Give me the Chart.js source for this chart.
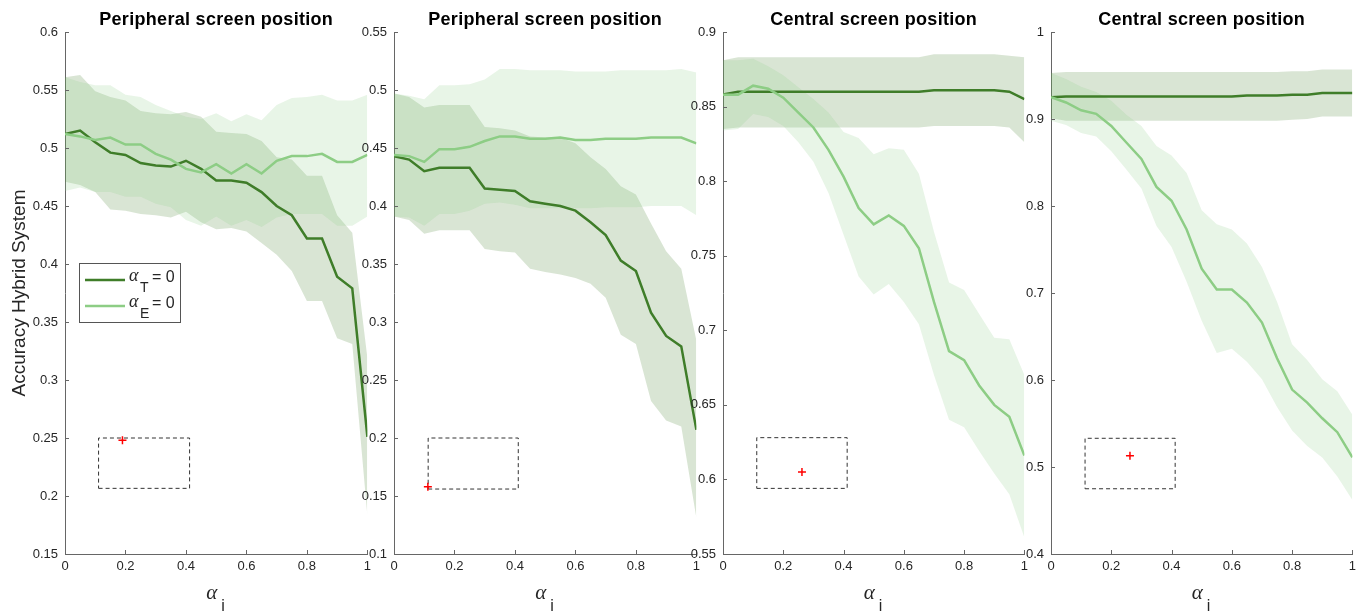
<!DOCTYPE html>
<html>
<head>
<meta charset="utf-8">
<script src="https://cdn.jsdelivr.net/npm/chart.js@4.4.1/dist/chart.umd.min.js"></script>
<style>
  body { margin: 0; background: #ffffff; }
  #wrap { position: relative; width: 1362px; height: 612px; overflow: hidden; }
  #wrap canvas { position: absolute; top: 0; }
</style>
</head>
<body>
<div id="wrap">
  <canvas id="panel1"></canvas>
  <canvas id="panel2"></canvas>
  <canvas id="panel3"></canvas>
  <canvas id="panel4"></canvas>
</div>
<script>
// alpha_i steps shared by every panel
const alphaSteps = [0, 0.05, 0.1, 0.15, 0.2, 0.25, 0.3, 0.35, 0.4, 0.45, 0.5,
                    0.55, 0.6, 0.65, 0.7, 0.75, 0.8, 0.85, 0.9, 0.95, 1];
const xTicks = [0, 0.2, 0.4, 0.6, 0.8, 1];

const titles = ['Peripheral screen position', 'Peripheral screen position',
                'Central screen position', 'Central screen position'];

const yTicks1 = [0.15, 0.2, 0.25, 0.3, 0.35, 0.4, 0.45, 0.5, 0.55, 0.6];
const yTicks2 = [0.1, 0.15, 0.2, 0.25, 0.3, 0.35, 0.4, 0.45, 0.5, 0.55];
const yTicks3 = [0.55, 0.6, 0.65, 0.7, 0.75, 0.8, 0.85, 0.9];
const yTicks4 = [0.4, 0.5, 0.6, 0.7, 0.8, 0.9, 1];

// panel 1 - peripheral
const p1Tmean  = [0.512, 0.515, 0.505, 0.496, 0.494, 0.487, 0.485, 0.484, 0.489, 0.482, 0.472, 0.472, 0.470, 0.462, 0.450, 0.442, 0.422, 0.422, 0.389, 0.379, 0.251];
const p1Tupper = [0.561, 0.563, 0.549, 0.544, 0.541, 0.532, 0.530, 0.529, 0.531, 0.527, 0.514, 0.513, 0.512, 0.506, 0.492, 0.490, 0.476, 0.476, 0.442, 0.427, 0.319];
const p1Tlower = [0.471, 0.468, 0.462, 0.447, 0.446, 0.443, 0.442, 0.440, 0.445, 0.436, 0.430, 0.431, 0.428, 0.418, 0.408, 0.394, 0.368, 0.368, 0.336, 0.331, 0.183];
const p1Emean  = [0.512, 0.510, 0.507, 0.509, 0.503, 0.503, 0.495, 0.490, 0.482, 0.479, 0.486, 0.478, 0.486, 0.478, 0.489, 0.493, 0.493, 0.495, 0.488, 0.488, 0.494];
const p1Eupper = [0.561, 0.557, 0.554, 0.554, 0.546, 0.544, 0.537, 0.532, 0.527, 0.525, 0.530, 0.523, 0.529, 0.524, 0.537, 0.543, 0.544, 0.546, 0.541, 0.541, 0.546];
const p1Elower = [0.463, 0.466, 0.462, 0.462, 0.458, 0.458, 0.452, 0.449, 0.438, 0.433, 0.441, 0.433, 0.438, 0.432, 0.440, 0.443, 0.443, 0.443, 0.433, 0.433, 0.441];

// panel 2 - peripheral
const p2Tmean  = [0.443, 0.440, 0.430, 0.433, 0.433, 0.433, 0.415, 0.414, 0.413, 0.404, 0.402, 0.400, 0.396, 0.386, 0.375, 0.353, 0.344, 0.308, 0.288, 0.279, 0.207];
const p2Tupper = [0.497, 0.494, 0.485, 0.487, 0.487, 0.487, 0.468, 0.467, 0.465, 0.460, 0.459, 0.459, 0.454, 0.442, 0.432, 0.417, 0.410, 0.385, 0.361, 0.346, 0.284];
const p2Tlower = [0.391, 0.388, 0.376, 0.379, 0.379, 0.379, 0.363, 0.361, 0.360, 0.346, 0.343, 0.341, 0.338, 0.333, 0.321, 0.289, 0.281, 0.232, 0.215, 0.210, 0.131];
const p2Emean  = [0.444, 0.443, 0.438, 0.449, 0.449, 0.451, 0.456, 0.460, 0.460, 0.458, 0.458, 0.459, 0.457, 0.457, 0.458, 0.458, 0.458, 0.459, 0.459, 0.459, 0.454];
const p2Eupper = [0.497, 0.495, 0.492, 0.504, 0.504, 0.505, 0.509, 0.518, 0.518, 0.517, 0.517, 0.517, 0.516, 0.516, 0.516, 0.517, 0.517, 0.517, 0.517, 0.518, 0.515];
const p2Elower = [0.391, 0.390, 0.383, 0.393, 0.393, 0.396, 0.402, 0.403, 0.401, 0.398, 0.398, 0.398, 0.398, 0.398, 0.399, 0.399, 0.399, 0.400, 0.400, 0.400, 0.392];

// panel 3 - central
const p3Tmean  = [0.858, 0.860, 0.860, 0.860, 0.860, 0.860, 0.860, 0.860, 0.860, 0.860, 0.860, 0.860, 0.860, 0.860, 0.861, 0.861, 0.861, 0.861, 0.861, 0.860, 0.855];
const p3Tupper = [0.881, 0.883, 0.883, 0.883, 0.883, 0.883, 0.883, 0.883, 0.883, 0.883, 0.883, 0.883, 0.883, 0.883, 0.885, 0.885, 0.885, 0.885, 0.885, 0.884, 0.883];
const p3Tlower = [0.835, 0.836, 0.836, 0.836, 0.836, 0.836, 0.836, 0.836, 0.836, 0.836, 0.836, 0.836, 0.836, 0.836, 0.837, 0.837, 0.837, 0.837, 0.837, 0.836, 0.826];
const p3Emean  = [0.858, 0.858, 0.864, 0.862, 0.856, 0.846, 0.836, 0.821, 0.803, 0.782, 0.771, 0.777, 0.770, 0.755, 0.719, 0.686, 0.680, 0.663, 0.650, 0.642, 0.616];
const p3Eupper = [0.881, 0.881, 0.882, 0.877, 0.871, 0.863, 0.855, 0.846, 0.833, 0.829, 0.818, 0.822, 0.821, 0.805, 0.766, 0.732, 0.727, 0.711, 0.695, 0.694, 0.670];
const p3Elower = [0.834, 0.835, 0.845, 0.843, 0.837, 0.826, 0.813, 0.792, 0.764, 0.736, 0.724, 0.731, 0.719, 0.704, 0.670, 0.640, 0.635, 0.619, 0.604, 0.590, 0.561];

// panel 4 - central
const p4Tmean  = [0.925, 0.926, 0.926, 0.926, 0.926, 0.926, 0.926, 0.926, 0.926, 0.926, 0.926, 0.926, 0.926, 0.927, 0.927, 0.927, 0.928, 0.928, 0.930, 0.930, 0.930];
const p4Tupper = [0.953, 0.954, 0.954, 0.954, 0.954, 0.954, 0.954, 0.954, 0.954, 0.954, 0.954, 0.954, 0.954, 0.954, 0.954, 0.954, 0.955, 0.955, 0.957, 0.957, 0.957];
const p4Tlower = [0.901, 0.898, 0.898, 0.898, 0.898, 0.898, 0.898, 0.898, 0.898, 0.898, 0.898, 0.898, 0.898, 0.898, 0.898, 0.898, 0.899, 0.900, 0.903, 0.903, 0.903];
const p4Emean  = [0.925, 0.919, 0.910, 0.906, 0.892, 0.873, 0.854, 0.822, 0.806, 0.773, 0.728, 0.704, 0.704, 0.689, 0.666, 0.625, 0.589, 0.574, 0.556, 0.540, 0.511];
const p4Eupper = [0.953, 0.946, 0.937, 0.931, 0.921, 0.905, 0.892, 0.869, 0.858, 0.838, 0.795, 0.779, 0.773, 0.757, 0.730, 0.690, 0.641, 0.623, 0.601, 0.587, 0.560];
const p4Elower = [0.898, 0.893, 0.884, 0.880, 0.863, 0.842, 0.820, 0.777, 0.753, 0.713, 0.668, 0.631, 0.636, 0.621, 0.601, 0.569, 0.542, 0.524, 0.511, 0.489, 0.462];

// dashed boxes [xmin, xmax, ymin, ymax] and the red marker [x, y]
const boxes   = [[0.111, 0.412, 0.2066, 0.250], [0.113, 0.411, 0.156, 0.200],
                 [0.112, 0.412, 0.594, 0.628], [0.113, 0.412, 0.475, 0.533]];
const markers = [[0.19, 0.248], [0.112, 0.158], [0.262, 0.605], [0.262, 0.513]];

const darkGreen = '#3f7d29';
const lightGreen = '#8dcd85';
const darkBand = 'rgba(63, 125, 41, 0.2)';
const lightBand = 'rgba(141, 205, 133, 0.2)';
const axisColor = '#666666';
const textColor = '#262626';
const sans = '"Liberation Sans", Arial, Helvetica, sans-serif';
const serif = '"Liberation Serif", "Times New Roman", serif';

function toPoints(values) {
    return alphaSteps.map((x, i) => ({ x: x, y: values[i] }));
}

function lineSet(values, color) {
    return {
        data: toPoints(values),
        borderColor: color,
        borderWidth: 2.5,
        pointRadius: 0,
        fill: false,
        tension: 0
    };
}

function bandSet(values, color, fill) {
    return {
        data: toPoints(values),
        borderWidth: 0,
        borderColor: 'rgba(0,0,0,0)',
        backgroundColor: color,
        pointRadius: 0,
        fill: fill
    };
}

// MATLAB style ticks pointing into the plot area
const inwardTicks = {
    id: 'inwardTicks',
    afterDraw(chart) {
        const { ctx, chartArea, scales } = chart;
        ctx.save();
        ctx.strokeStyle = axisColor;
        ctx.lineWidth = 1;
        ctx.beginPath();
        scales.x.ticks.forEach(t => {
            const px = Math.round(scales.x.getPixelForValue(t.value)) + 0.5;
            ctx.moveTo(px, chartArea.bottom);
            ctx.lineTo(px, chartArea.bottom - 4);
        });
        scales.y.ticks.forEach(t => {
            const py = Math.round(scales.y.getPixelForValue(t.value)) + 0.5;
            ctx.moveTo(chartArea.left, py);
            ctx.lineTo(chartArea.left + 4, py);
        });
        ctx.stroke();
        ctx.restore();
    }
};

function panelText(title) {
    return {
        id: 'panelText',
        afterDraw(chart) {
            const { ctx, chartArea } = chart;
            const cx = (chartArea.left + chartArea.right) / 2;
            ctx.save();
            ctx.fillStyle = '#000000';
            ctx.textAlign = 'center';
            ctx.textBaseline = 'alphabetic';
            ctx.font = 'bold 18px ' + sans;
            ctx.letterSpacing = '0.3px';
            ctx.fillText(title, cx, 25);
            ctx.letterSpacing = '0px';

            // x axis label: alpha with subscript i
            ctx.fillStyle = textColor;
            ctx.font = 'italic 21px ' + serif;
            ctx.textAlign = 'right';
            ctx.fillText('α', cx + 1, 599);
            ctx.font = '16px ' + sans;
            ctx.textAlign = 'left';
            ctx.fillText('i', cx + 5, 611);
            ctx.restore();
        }
    };
}

const legendBox = {
    id: 'legendBox',
    afterDraw(chart) {
        const ctx = chart.ctx;
        ctx.save();
        ctx.fillStyle = '#ffffff';
        ctx.fillRect(80, 264, 100, 58);
        ctx.strokeStyle = '#555555';
        ctx.lineWidth = 1;
        ctx.strokeRect(79.5, 263.5, 101, 59);

        const rows = [[darkGreen, 'T', 280], [lightGreen, 'E', 306]];
        rows.forEach(r => {
            ctx.strokeStyle = r[0];
            ctx.lineWidth = 2.5;
            ctx.beginPath();
            ctx.moveTo(85, r[2]);
            ctx.lineTo(125, r[2]);
            ctx.stroke();

            ctx.fillStyle = textColor;
            ctx.textBaseline = 'alphabetic';
            ctx.textAlign = 'left';
            ctx.font = 'italic 18px ' + serif;
            ctx.fillText('α', 129, r[2] + 1);
            ctx.font = '14px ' + sans;
            ctx.fillText(r[1], 140, r[2] + 12);
            ctx.font = '16px ' + sans;
            ctx.fillText('= 0', 152, r[2] + 2);
        });
        ctx.restore();
    }
};

function makePanel(id, plotLeft, plotRight, yTicks, sets, box, marker, title, first) {
    const axisWidth = first ? 65 : 40;
    const canvas = document.getElementById(id);
    canvas.width = axisWidth + (plotRight - plotLeft) + 8;
    canvas.height = 612;
    canvas.style.left = (plotLeft - axisWidth) + 'px';

    const boxPoints = [
        { x: box[0], y: box[2] }, { x: box[1], y: box[2] },
        { x: box[1], y: box[3] }, { x: box[0], y: box[3] }, { x: box[0], y: box[2] }
    ];

    const datasets = [
        lineSet(sets.Emean, lightGreen),
        lineSet(sets.Tmean, darkGreen),
        {
            data: [{ x: marker[0], y: marker[1] }],
            showLine: false,
            pointStyle: 'cross',
            pointRadius: 4,
            borderColor: '#ff0000',
            borderWidth: 1.5
        },
        {
            data: boxPoints,
            borderColor: '#333333',
            borderWidth: 1,
            borderDash: [4, 3],
            pointRadius: 0,
            fill: false,
            tension: 0
        },
        bandSet(sets.Eupper, lightBand, '+1'),
        bandSet(sets.Elower, lightBand, false),
        bandSet(sets.Tupper, darkBand, '+1'),
        bandSet(sets.Tlower, darkBand, false)
    ];

    const plugins = [inwardTicks, panelText(title)];
    if (first) plugins.push(legendBox);

    return new Chart(canvas, {
        type: 'line',
        data: { datasets: datasets },
        options: {
            responsive: false,
            animation: false,
            devicePixelRatio: 1,
            layout: { padding: { top: 32, right: 8, left: 0, bottom: 0 } },
            plugins: {
                legend: { display: false },
                tooltip: { enabled: false },
                title: { display: false }
            },
            scales: {
                x: {
                    type: 'linear',
                    min: 0,
                    max: 1,
                    afterBuildTicks: scale => { scale.ticks = xTicks.map(v => ({ value: v })); },
                    afterFit: scale => { scale.height = 58; },
                    grid: { display: false, drawTicks: false },
                    border: { display: true, color: axisColor, width: 1 },
                    ticks: {
                        color: textColor,
                        padding: 5,
                        maxRotation: 0,
                        font: { family: sans, size: 13 },
                        callback: v => String(v)
                    }
                },
                y: {
                    type: 'linear',
                    min: yTicks[0],
                    max: yTicks[yTicks.length - 1],
                    afterBuildTicks: scale => { scale.ticks = yTicks.map(v => ({ value: v })); },
                    afterFit: scale => { scale.width = axisWidth; },
                    grid: { display: false, drawTicks: false },
                    border: { display: true, color: axisColor, width: 1 },
                    ticks: {
                        color: textColor,
                        padding: 7,
                        font: { family: sans, size: 13 },
                        callback: v => String(v)
                    },
                    title: {
                        display: first,
                        text: 'Accuracy Hybrid System',
                        color: textColor,
                        font: { family: sans, size: 19 },
                        padding: { top: 8, bottom: 0 }
                    }
                }
            }
        },
        plugins: plugins
    });
}

makePanel('panel1', 65, 368, yTicks1,
    { Tmean: p1Tmean, Tupper: p1Tupper, Tlower: p1Tlower, Emean: p1Emean, Eupper: p1Eupper, Elower: p1Elower },
    boxes[0], markers[0], titles[0], true);
makePanel('panel2', 394, 697, yTicks2,
    { Tmean: p2Tmean, Tupper: p2Tupper, Tlower: p2Tlower, Emean: p2Emean, Eupper: p2Eupper, Elower: p2Elower },
    boxes[1], markers[1], titles[1], false);
makePanel('panel3', 723, 1025, yTicks3,
    { Tmean: p3Tmean, Tupper: p3Tupper, Tlower: p3Tlower, Emean: p3Emean, Eupper: p3Eupper, Elower: p3Elower },
    boxes[2], markers[2], titles[2], false);
makePanel('panel4', 1051, 1353, yTicks4,
    { Tmean: p4Tmean, Tupper: p4Tupper, Tlower: p4Tlower, Emean: p4Emean, Eupper: p4Eupper, Elower: p4Elower },
    boxes[3], markers[3], titles[3], false);
</script>
</body>
</html>
